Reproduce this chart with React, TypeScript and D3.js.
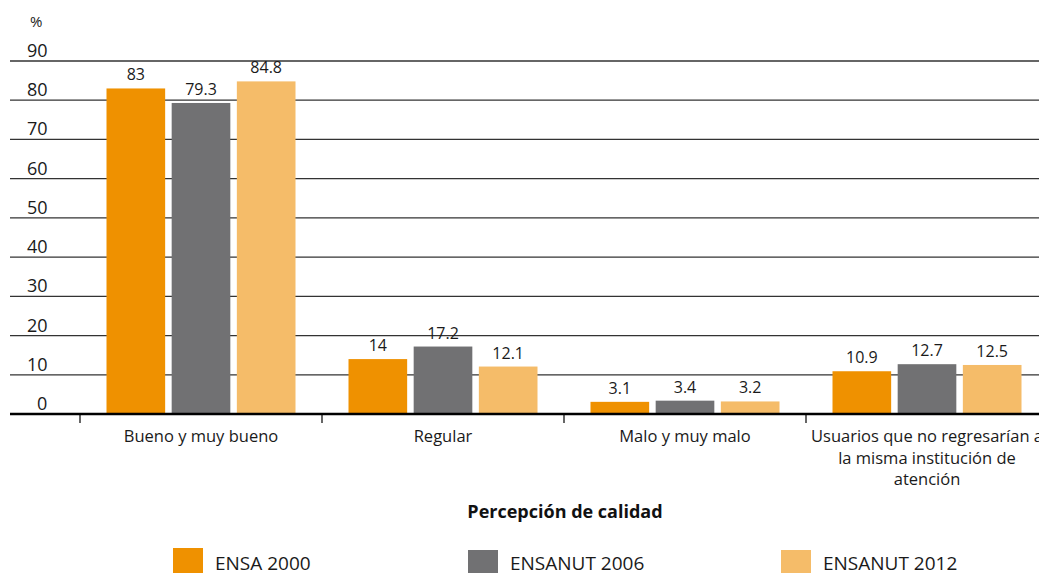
import React from "react";
import * as d3 from "d3";

const categories = [
  ["Bueno y muy bueno"],
  ["Regular"],
  ["Malo y muy malo"],
  ["Usuarios que no regresarían a", "la misma institución de", "atención"],
];
const seriesNames = ["ENSA 2000", "ENSANUT 2006", "ENSANUT 2012"];
const ensa2000 = [83, 14, 3.1, 10.9];
const ensanut2006 = [79.3, 17.2, 3.4, 12.7];
const ensanut2012 = [84.8, 12.1, 3.2, 12.5];
const yTicks = [0, 10, 20, 30, 40, 50, 60, 70, 80, 90];
const colors = ["#EF9100", "#717173", "#F5BC69"];

const W = 1039;
const H = 573;
const FONT = "'Open Sans', 'Noto Sans', sans-serif";

export default function App() {
  const series = [ensa2000, ensanut2006, ensanut2012];
  const y = d3.scaleLinear().domain([0, 90]).range([414, 61]);
  const x0 = d3
    .scaleBand<number>()
    .domain(categories.map((_, i) => i))
    .range([80, 1048])
    .paddingInner(0)
    .paddingOuter(0);
  const x1 = d3
    .scaleBand<number>()
    .domain([0, 1, 2])
    .range([26.5, 242 - 26.5])
    .paddingInner(0.1);

  const legendX = [173, 468, 781];

  return (
    <div style={{ position: "absolute", left: 0, top: 0 }}>
      <svg width={W} height={H} style={{ display: "block" }}>
        <rect width={W} height={H} fill="#fff" />
        <text x={30} y={27} fontSize={15} fontFamily={FONT} fill="#222">%</text>
        {yTicks.map((t) => (
          <g key={t}>
            {t > 0 && (
              <line x1={10} x2={W} y1={y(t)} y2={y(t)} stroke="#333" strokeWidth={1.3} />
            )}
            <text
              x={t === 0 ? 37 : 27}
              y={y(t) - 4}
              fontSize={18}
              fontFamily={FONT}
              fill="#1a1a1a"
            >
              {t}
            </text>
          </g>
        ))}
        {categories.map((_, ci) =>
          series.map((s, si) => {
            const bx = x0(ci)! + x1(si)!;
            const bw = x1.bandwidth();
            const v = s[ci];
            return (
              <g key={`${ci}-${si}`}>
                <rect x={bx} y={y(v)} width={bw} height={y(0) - y(v)} fill={colors[si]} />
                <text
                  x={bx + bw / 2}
                  y={y(v) - 8}
                  textAnchor="middle"
                  fontSize={16}
                  fontFamily={FONT}
                  fill="#1a1a1a"
                >
                  {v}
                </text>
              </g>
            );
          })
        )}
        <line x1={10} x2={W} y1={y(0)} y2={y(0)} stroke="#000" strokeWidth={2.5} />
        {categories.map((_, ci) => (
          <line
            key={ci}
            x1={x0(ci)!}
            x2={x0(ci)!}
            y1={y(0)}
            y2={y(0) + 9}
            stroke="#000"
            strokeWidth={1.2}
          />
        ))}
        {categories.map((lines, ci) => (
          <text
            key={ci}
            x={x0(ci)! + x0.bandwidth() / 2}
            y={442}
            textAnchor="middle"
            fontSize={16.5}
            fontFamily={FONT}
            fill="#1a1a1a"
          >
            {lines.map((l, li) => (
              <tspan key={li} x={x0(ci)! + x0.bandwidth() / 2} dy={li === 0 ? 0 : 21.5}>
                {l}
              </tspan>
            ))}
          </text>
        ))}
        <text
          x={565}
          y={518}
          textAnchor="middle"
          fontSize={18}
          fontWeight="bold"
          fontFamily={FONT}
          fill="#111"
        >
          Percepción de calidad
        </text>
        {seriesNames.map((n, i) => (
          <g key={n}>
            <rect x={legendX[i]} y={i === 0 ? 548 : 550} width={30} height={28} fill={colors[i]} />
            <text x={legendX[i] + 42} y={570} fontSize={19} fontFamily={FONT} fill="#1a1a1a">
              {n}
            </text>
          </g>
        ))}
      </svg>
    </div>
  );
}
